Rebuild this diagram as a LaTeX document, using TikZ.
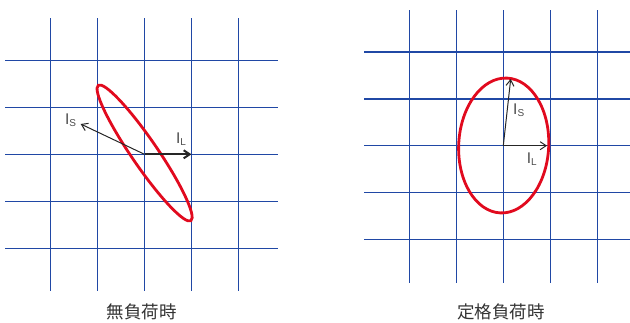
\documentclass[tikz,border=0pt]{standalone}
\usepackage{fontspec}
\setmainfont{Liberation Sans}
\newfontfamily\jpfont{Noto Sans CJK JP}
\usepackage{tikz}
\usetikzlibrary{arrows.meta, positioning}

\definecolor{gridblue}{RGB}{32,72,165}
\definecolor{locusred}{RGB}{225,10,30}
\definecolor{labelgray}{RGB}{75,75,75}

\newcommand{\cur}[1]{I\raisebox{-0.3ex}{\fontsize{10pt}{11pt}\selectfont #1}}

\begin{document}
\begin{tikzpicture}[
    x=1pt, y=1pt,
    gridline/.style={draw=gridblue, line width=1.5pt},
    locus/.style={draw=locusred, line width=2.8pt},
    vec/.style={-{Straight Barb[length=6pt, width=8pt]}, line width=1pt, draw=black!85},
    veclong/.style={vec, line width=2pt},
    lbl/.style={text=labelgray, font=\fontsize{15.5pt}{16pt}\selectfont, inner sep=0pt},
    title/.style={font=\jpfont\fontsize{17.5pt}{18pt}\selectfont, text=black!80, inner sep=0pt}
]
\useasboundingbox (0,0) rectangle (630,-322);

% --------------------------------------------------------------------------
% No-load grid
% --------------------------------------------------------------------------
\foreach \gx in {50.7, 97.7, 144.5, 191.5, 238.7}
    \draw[gridline] (\gx,-18.3) -- (\gx,-290.7);
\foreach \gy in {60.7, 107.7, 154.3, 201.5, 248.3}
    \draw[gridline] (5.3,-\gy) -- (277.7,-\gy);

\coordinate (o1) at (144.5,-154.3);
\coordinate (il1) at (191.5,-154.3);
\coordinate (is1) at (80.7,-124);

\draw[locus, rotate around={-55.6:(144.6,-153)}] (144.6,-153) ellipse [x radius=82pt, y radius=13pt];

\draw[veclong] (o1) -- (il1);
\draw[vec] (o1) -- (is1);
\node[lbl] (is1lbl) at (70.5,-120) {\cur{S}};
\node[lbl] (il1lbl) at (181,-139) {\cur{L}};

\node[title] (noload) at (141.7,-311.5) {無負荷時};

% --------------------------------------------------------------------------
% Rated-load grid
% --------------------------------------------------------------------------
\foreach \gx in {409.3, 456.5, 503.3, 550.3, 597.3}
    \draw[gridline] (\gx,-10) -- (\gx,-282.7);
\foreach \gy in {52, 99, 145.7, 192.7, 239.7}
    \draw[gridline] (364,-\gy) -- (630,-\gy);

\coordinate (o2) at (503.3,-145.7);
\coordinate (il2) at (547,-145.7);
\coordinate (is2) at (510.7,-79);

\draw[locus, rotate around={-3:(503.7,-145.5)}] (503.7,-145.5) ellipse [x radius=45pt, y radius=67.5pt];

\draw[vec] (o2) -- (il2);
\draw[vec] (o2) -- (is2);
\node[lbl] (is2lbl) at (518.7,-110) {\cur{S}};
\node[lbl] (il2lbl) at (531.7,-159) {\cur{L}};

\node[title] (rated) at (501,-311.5) {定格負荷時};

\end{tikzpicture}
\end{document}
